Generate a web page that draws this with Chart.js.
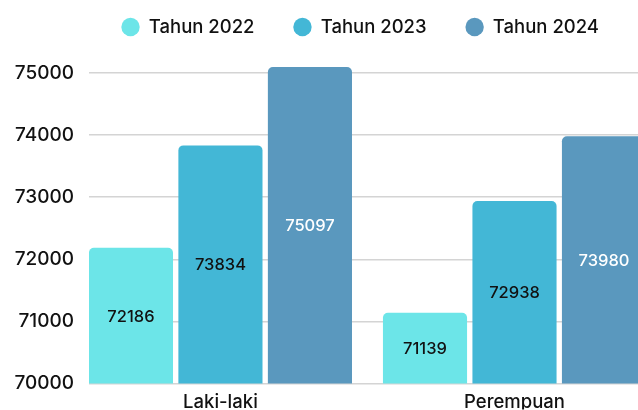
<!DOCTYPE html>
<html>
<head>
<meta charset="utf-8">
<script src="https://cdn.jsdelivr.net/npm/chart.js@4/dist/chart.umd.min.js"></script>
<style>
html,body{margin:0;padding:0;background:#fff;overflow:hidden;}
#wrap{width:638px;height:410px;position:relative;}
</style>
</head>
<body>
<div id="wrap"><canvas id="c"></canvas></div>
<script>
const categories = ['Laki-laki', 'Perempuan'];
const seriesNames = ['Tahun 2022', 'Tahun 2023', 'Tahun 2024'];
const values2022 = [72186, 71139];
const values2023 = [73834, 72938];
const values2024 = [75097, 73980];
const yTicks = [70000, 71000, 72000, 73000, 74000, 75000];

const colors = ['#6ce5e8', '#43b7d6', '#5a98be'];
const labelColors = ['#111111', '#111111', '#ffffff'];
const FONT = 'Inter, "Open Sans", sans-serif';

const seriesValues = [values2022, values2023, values2024];

const valueLabels = {
  id: 'valueLabels',
  afterDatasetsDraw(chart) {
    const ctx = chart.ctx;
    const bottom = chart.chartArea.bottom;
    ctx.save();
    ctx.font = '500 16.5px ' + FONT;
    ctx.textAlign = 'center';
    ctx.textBaseline = 'middle';
    chart.data.datasets.forEach((ds, di) => {
      const meta = chart.getDatasetMeta(di);
      meta.data.forEach((bar, i) => {
        const v = seriesValues[di][i];
        const base = Math.min(bar.base, bottom);
        ctx.fillStyle = labelColors[di];
        ctx.fillText(String(v), bar.x, (bar.y + base) / 2 + 1);
      });
    });
    ctx.restore();
  }
};

new Chart(document.getElementById('c'), {
  type: 'bar',
  data: {
    datasets: seriesNames.map((name, di) => ({
      label: name,
      data: seriesValues[di].map((v, i) => ({x: i, y: v})),
      backgroundColor: colors[di],
      borderWidth: 0,
      borderRadius: {topLeft: 5, topRight: 5, bottomLeft: 0, bottomRight: 0},
      borderSkipped: false,
      barPercentage: 0.94,
      categoryPercentage: 0.913
    }))
  },
  options: {
    responsive: true,
    maintainAspectRatio: false,
    animation: false,
    layout: {padding: {top: -21.25, left: 0, right: 0, bottom: 0}},
    plugins: {
      legend: {
        position: 'top',
        align: 'end',
        labels: {
          usePointStyle: true,
          pointStyle: 'circle',
          boxWidth: 18,
          boxHeight: 13,
          padding: 39,
          color: '#111111',
          font: {family: FONT, size: 18.5, weight: '500'}
        }
      },
      tooltip: {enabled: false}
    },
    scales: {
      x: {
        type: 'linear',
        offset: false,
        min: -0.447,
        max: 1.42,
        grid: {display: false, drawTicks: false},
        border: {display: false},
        afterBuildTicks(scale) { scale.ticks = categories.map((c, i) => ({value: i})); },
        afterFit(scale) { scale.height = 26; },
        ticks: {
          padding: 8,
          autoSkip: false,
          maxRotation: 0,
          color: '#111111',
          font: {family: FONT, size: 18.5, weight: '500'},
          callback: (v) => categories[v]
        }
      },
      y: {
        min: 70000,
        max: 75430,
        grid: {color: '#d4d4d4', lineWidth: 1.5, drawTicks: false},
        border: {display: false},
        afterBuildTicks(scale) { scale.ticks = yTicks.map(v => ({value: v})); },
        afterFit(scale) { scale.width = 89; },
        ticks: {
          padding: 15,
          color: '#111111',
          font: {family: FONT, size: 19, weight: '500'},
          callback: (v) => String(v)
        }
      }
    }
  },
  plugins: [valueLabels]
});
</script>
</body>
</html>
